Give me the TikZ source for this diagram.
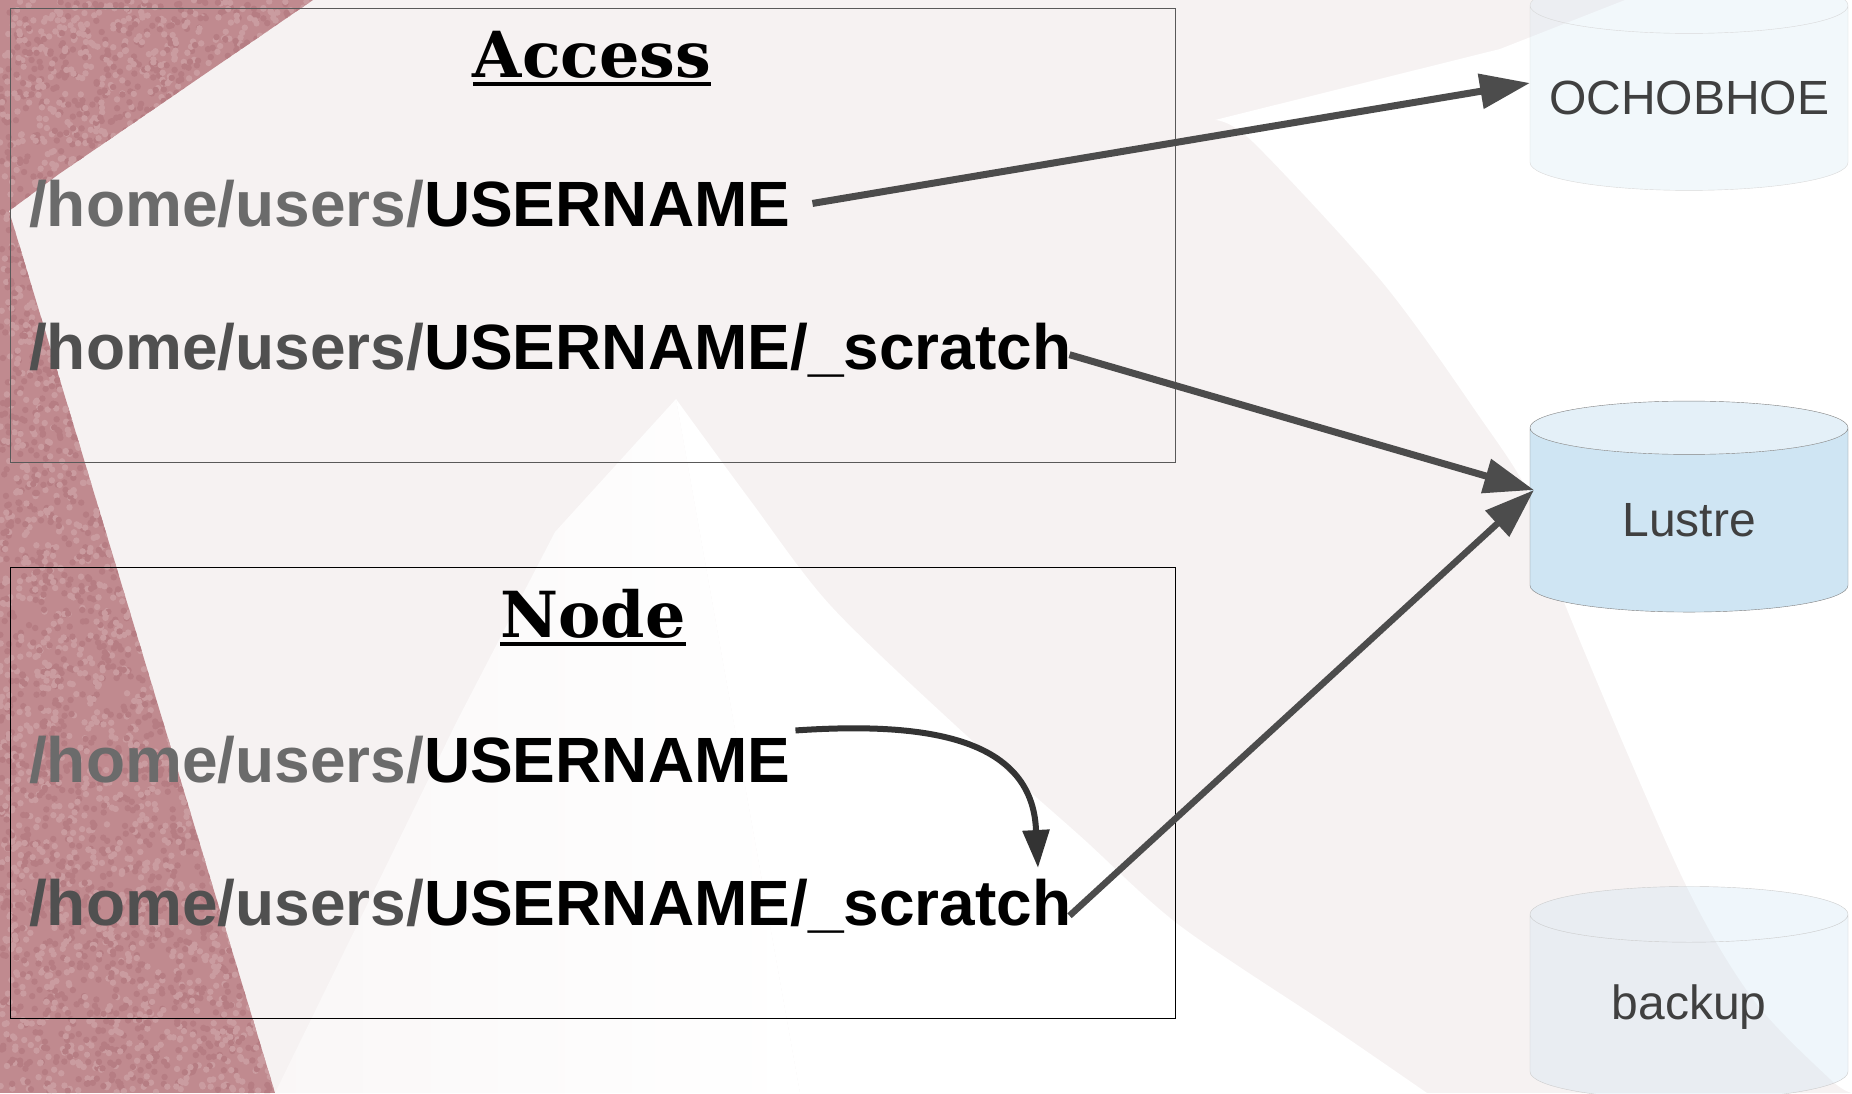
\documentclass[tikz,border=0pt]{standalone}
\usepackage{fontspec}
\setmainfont{Liberation Sans}
\newfontfamily\titlefont{DejaVu Serif}
\usetikzlibrary{arrows.meta,shapes.geometric}
\definecolor{redwash}{HTML}{C08A8F}
\definecolor{redlight}{HTML}{CA9CA0}
\definecolor{reddark}{HTML}{B67D83}
\definecolor{pinkwash}{HTML}{F6F2F2}
\definecolor{diskblue}{HTML}{CFE5F3}
\definecolor{disktop}{HTML}{E4F0F8}
\definecolor{greyone}{HTML}{6B6B6B}
\definecolor{greytwo}{HTML}{505050}
\newcommand{\titleline}[1]{\setbox0\hbox{#1}\rlap{\rule[-8.5pt]{\wd0}{3.5pt}}\box0}
\begin{document}
\begin{tikzpicture}[
		x=1pt, y=-1pt,
		framebox/.style={draw=black!65, line width=1pt, anchor=north west, inner sep=0pt, minimum width=1165pt, minimum height=454pt},
		boxtitle/.style={anchor=base, inner sep=0pt, font=\titlefont\bfseries\fontsize{63.5}{70}\selectfont},
		pathtxt/.style={anchor=base west, inner sep=0pt, font=\bfseries\fontsize{64}{70}\selectfont},
		disk/.style={cylinder, shape border rotate=90, aspect=0.40, inner sep=0pt, outer sep=0pt, minimum width=318pt, minimum height=213pt, cylinder uses custom fill, fill opacity=0.3, text opacity=1, text=black!75, font=\fontsize{48}{56}\selectfont},
		link/.style={draw=black!70, line width=7pt, -{Triangle[length=50pt,width=34pt]}}
		]
	% background
	\clip (0,0) rectangle (1852,1093);
	\fill[pinkwash] (0,0) rectangle (1852,1093);
	\shade[left color=pinkwash!60, right color=white] (676,399) -- (555,532) -- (457,721) -- (275,1093) -- (800,1093) -- cycle;
	\fill[white] plot[smooth] coordinates {(676,399) (750,500) (830,605) (955,725) (1079,835) (1179,925) (1328,1025) (1427,1093)} -- (800,1093) -- cycle;
	\fill[white] plot[smooth] coordinates {(1215,120) (1253,142) (1383,283) (1477,413) (1530,496) (1564,602) (1682,877) (1753,999) (1830,1079) (1852,1093)} -- (1852,0) -- (1625,0) -- (1500,49) -- cycle;
	\begin{scope}
		\clip (0,0) -- (313,0) -- (59,174) -- (9,211) -- (275,1093) -- (0,1093) -- cycle;
		\fill[redwash] (0,0) rectangle (320,1093);
		\pgfmathsetseed{7}
		\foreach \i in {1,...,3000} {
			\fill[redlight] ({rnd*320},{rnd*1093}) circle (3.2pt);
			\fill[reddark] ({rnd*320},{rnd*1093}) circle (3.2pt);
		}
	\end{scope}

	% boxes
	\node[framebox] (accbox) at (10,8) {};
	\node[framebox, draw=black, minimum height=451pt] (nodebox) at (10,567) {};
	\node[boxtitle] (acctitle) at (592,77) {\titleline{Access}};
	\node[boxtitle] (nodetitle) at (593,637) {\titleline{Node}};

	% paths
	\node[pathtxt] (achome) at (29,226) {{\color{greyone}/home/users/}USERNAME};
	\node[pathtxt] (acscr) at (29,369) {{\color{greytwo}/home/users/}USERNAME/\_scratch};
	\node[pathtxt] (ndhome) at (29,782) {{\color{greyone}/home/users/}USERNAME};
	\node[pathtxt] (ndscr) at (29,925) {{\color{greytwo}/home/users/}USERNAME/\_scratch};

	% disks
	\node[disk, aspect=0.2, minimum height=213pt, cylinder body fill=diskblue, cylinder end fill=diskblue, draw=black!15, fill opacity=0.25] (osn) at (1689,98) {ОСНОВНОЕ};
	\node[disk, minimum height=211pt, cylinder body fill=diskblue, cylinder end fill=disktop, draw=black!50, fill opacity=1] (lus) at (1689,520) {Lustre};
	\node[disk, aspect=0.36, cylinder body fill=diskblue, cylinder end fill=diskblue, draw=black!20, fill opacity=0.33] (bak) at (1689,1007) {backup};

	\coordinate (lusin) at (1534,490);
	\coordinate (scrtop) at (1038,868);

	% links
	\draw[link] ([xshift=22pt]achome.east) -- ([yshift=15pt]osn.west);
	\draw[link] ([shift={(-2pt,-5pt)}]acscr.east) -- (lusin);
	\draw[link, line width=6.5pt] ([shift={(-2pt,-10pt)}]ndscr.east) -- (lusin);
	\draw[link, draw=black!80, line width=6pt, -{Triangle[length=38pt,width=26pt]}] ([shift={(5pt,29pt)}]ndhome.east) .. controls (920,722) and (1032,735) .. (1036,830) -- (scrtop);
\end{tikzpicture}
\end{document}
